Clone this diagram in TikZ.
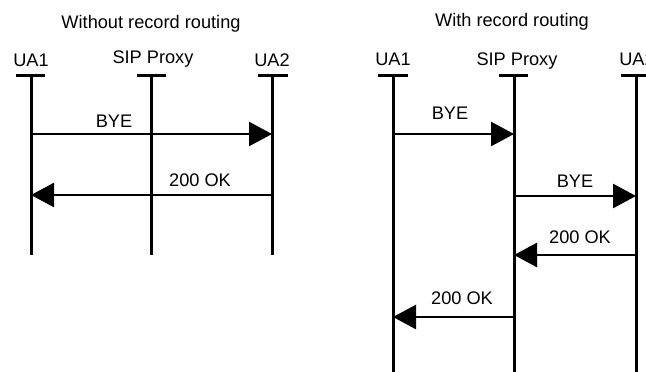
\documentclass[tikz,border=0pt]{standalone}
\usepackage{fontspec}
\setmainfont{Liberation Sans}
\usetikzlibrary{arrows.meta}
\begin{document}
\begin{tikzpicture}[x=1pt,y=-1pt,
  lbl/.style={anchor=base,inner sep=0pt,font=\fontsize{18.2}{21}\selectfont},
  life/.style={line width=3pt},
  tick/.style={line width=3pt},
  msg/.style={line width=2.6pt,-{Triangle[length=23pt,width=24pt]}}]
\useasboundingbox (0,0) rectangle (646,372);
% ---------- left diagram ----------
\node[lbl] (t1) at (151,28) {Without record routing};
\node[lbl] (l1) at (31,66) {UA1};
\node[lbl] (l2) at (153,63) {SIP Proxy};
\node[lbl] (l3) at (272,66) {UA2};
\coordinate (a1t) at (31,75);  \coordinate (a1b) at (31,255);
\coordinate (p1t) at (151,75); \coordinate (p1b) at (151,255);
\coordinate (b1t) at (272,75); \coordinate (b1b) at (272,255);
\draw[tick] (16,75) -- (45,75);
\draw[tick] (137,75) -- (166,75);
\draw[tick] (258,75) -- (288,75);
\draw[life] (a1t) -- (a1b);
\draw[life] (p1t) -- (p1b);
\draw[life] (b1t) -- (b1b);
\coordinate (m1s) at (31,134); \coordinate (m1e) at (272,134);
\coordinate (m2s) at (272,195); \coordinate (m2e) at (31,195);
\draw[msg] (m1s) -- (m1e);
\draw[msg] (m2s) -- (m2e);
\node[lbl] (bye1) at (114,127) {BYE};
\node[lbl] (ok1) at (200,186) {200 OK};
% ---------- right diagram ----------
\node[lbl] (t2) at (512,27) {With record routing};
\node[lbl] (r1) at (393,65) {UA1};
\node[lbl] (r2) at (517,65) {SIP Proxy};
\node[lbl] (r3) at (637,65) {UA2};
\coordinate (a2t) at (393,75); \coordinate (a2b) at (393,372);
\coordinate (p2t) at (514,75); \coordinate (p2b) at (514,372);
\coordinate (b2t) at (636,75); \coordinate (b2b) at (636,372);
\draw[tick] (378,75) -- (408,75);
\draw[tick] (499,75) -- (528,75);
\draw[tick] (621,75) -- (651,75);
\draw[life] (a2t) -- (a2b);
\draw[life] (p2t) -- (p2b);
\draw[life] (b2t) -- (b2b);
\coordinate (n1s) at (393,134); \coordinate (n1e) at (514,134);
\coordinate (n2s) at (514,196); \coordinate (n2e) at (636,196);
\coordinate (n3s) at (636,255); \coordinate (n3e) at (514,255);
\coordinate (n4s) at (514,317); \coordinate (n4e) at (393,317);
\draw[msg] (n1s) -- (n1e);
\draw[msg] (n2s) -- (n2e);
\draw[msg] (n3s) -- (n3e);
\draw[msg] (n4s) -- (n4e);
\node[lbl] (bye2) at (450,119) {BYE};
\node[lbl] (bye3) at (575,187) {BYE};
\node[lbl] (ok2) at (580,243) {200 OK};
\node[lbl] (ok3) at (462,304) {200 OK};
\end{tikzpicture}
\end{document}
